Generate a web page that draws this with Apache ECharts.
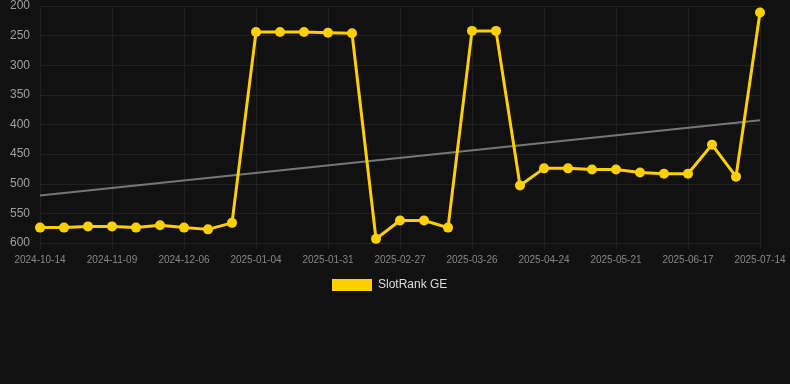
<!DOCTYPE html>
<html>
<head>
<meta charset="utf-8">
<script src="https://cdn.jsdelivr.net/npm/echarts@6/dist/echarts.min.js"></script>
<style>
  html, body { margin: 0; padding: 0; background: #111111; }
  #chart { width: 790px; height: 384px; }
</style>
</head>
<body>
<div id="chart"></div>
<script>
var dates = [
  '2024-10-14', '2024-10-23', '2024-11-01', '2024-11-09', '2024-11-18', '2024-11-27',
  '2024-12-06', '2024-12-16', '2024-12-25', '2025-01-04', '2025-01-13', '2025-01-22',
  '2025-01-31', '2025-02-09', '2025-02-18', '2025-02-27', '2025-03-08', '2025-03-17',
  '2025-03-26', '2025-04-04', '2025-04-14', '2025-04-24', '2025-05-03', '2025-05-12',
  '2025-05-21', '2025-05-30', '2025-06-08', '2025-06-17', '2025-06-26', '2025-07-05',
  '2025-07-14'
];

var rankValues = [
  574, 574, 572, 572, 574, 570, 574, 577, 566, 244,
  244, 244, 245, 246, 593, 562, 562, 574, 242, 242,
  503, 474, 474, 476, 476, 481, 483, 483, 434, 488,
  211
];

// trend line: value at first and last date
var trendEnds = [520, 393];

var chart = echarts.init(document.getElementById('chart'));

var font = '"Liberation Sans", Arial, sans-serif';

var option = {
  backgroundColor: '#111111',
  animation: false,
  grid: { left: 40, right: 30, top: 6, bottom: 141 },
  legend: {
    bottom: 88,
    left: 327,
    itemWidth: 40,
    itemHeight: 12,
    itemGap: 6,
    icon: 'rect',
    data: ['SlotRank GE'],
    textStyle: { color: '#dddddd', fontSize: 12, fontFamily: font, padding: [0, 0, 0, 1] }
  },
  xAxis: {
    type: 'category',
    data: dates,
    boundaryGap: false,
    axisLine: { show: false },
    axisTick: { show: true, length: 6, interval: 2, lineStyle: { color: '#222222' } },
    axisLabel: { interval: 2, color: '#888888', fontSize: 10, margin: 12, fontFamily: font },
    splitLine: { show: true, interval: 2, lineStyle: { color: '#222222' } }
  },
  yAxis: {
    type: 'value',
    inverse: true,
    min: 200,
    max: 600,
    interval: 50,
    axisLine: { show: false },
    axisTick: { show: false },
    axisLabel: { color: '#a0a0a0', fontSize: 12, margin: 10, fontFamily: font },
    splitLine: { lineStyle: { color: '#222222' } }
  },
  series: [
    {
      name: 'SlotRank GE',
      type: 'line',
      data: rankValues,
      symbol: 'circle',
      symbolSize: 10,
      itemStyle: { color: '#FFD000' },
      lineStyle: { color: '#FFD000', width: 3 },
      z: 3
    },
    {
      name: 'Trend',
      type: 'line',
      data: [[dates[0], trendEnds[0]], [dates[dates.length - 1], trendEnds[1]]],
      symbol: 'none',
      lineStyle: { color: '#777777', width: 2 },
      z: 2
    }
  ]
};

chart.setOption(option);

window.onresize = function () {
  chart.resize();
};
</script>
</body>
</html>
